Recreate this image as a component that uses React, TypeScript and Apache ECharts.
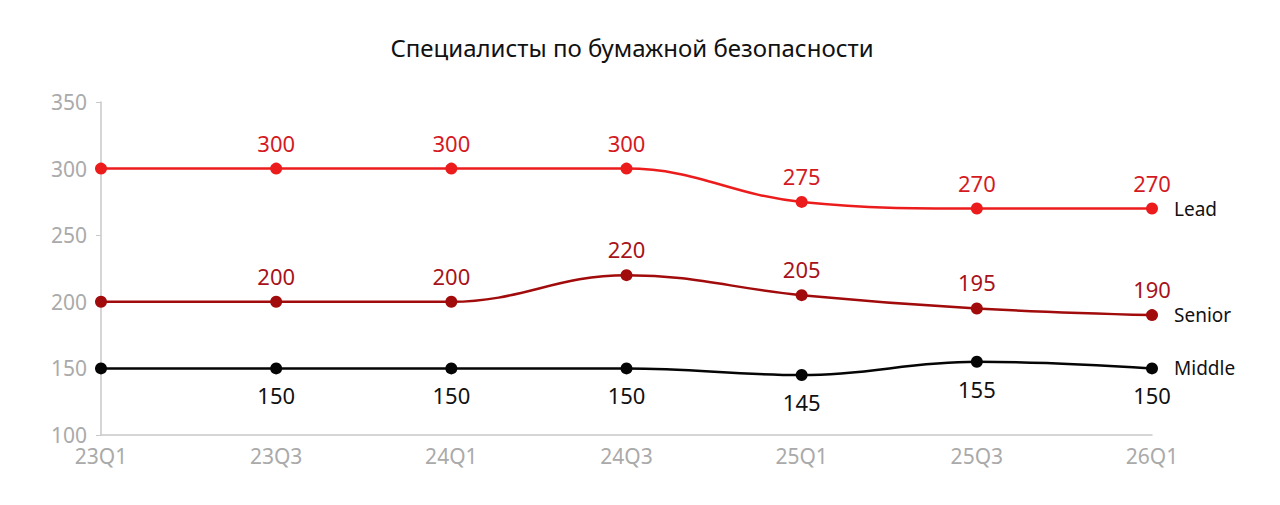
import React, { useEffect, useRef } from "react";
import * as echarts from "echarts";

const categories = ["23Q1", "23Q3", "24Q1", "24Q3", "25Q1", "25Q3", "26Q1"];
const leadValues = [300, 300, 300, 300, 275, 270, 270];
const seniorValues = [200, 200, 200, 220, 205, 195, 190];
const middleValues = [150, 150, 150, 150, 145, 155, 150];
const title = "Специалисты по бумажной безопасности";

const FONT = "'Noto Sans', 'Open Sans', sans-serif";

export default function App() {
  const ref = useRef<HTMLDivElement>(null);
  useEffect(() => {
    if (!ref.current) return;
    const chart = echarts.init(ref.current, null, { renderer: "svg" });
    const mk = (name: string, data: number[], color: string, labelColor: string, pos: string) => ({
      name,
      type: "line",
      data,
      smooth: 0.4,
      symbol: "circle",
      symbolSize: 12,
      lineStyle: { color, width: 2.5 },
      itemStyle: { color },
      label: {
        show: true,
        position: pos,
        distance: pos === "top" ? 9 : 10,
        color: labelColor,
        fontSize: 22,
        fontFamily: FONT,
        formatter: (p: any) => (p.dataIndex === 0 ? "" : String(p.value)),
      },
      endLabel: {
        show: true,
        formatter: "{a}",
        color: "#111",
        fontSize: 19,
        fontFamily: FONT,
        distance: 22,
      },
    });
    chart.setOption({
      animation: false,
      backgroundColor: "#fff",
      title: {
        text: title,
        left: 619,
        top: 22,
        textAlign: "center",
        textStyle: { fontSize: 24, fontWeight: "normal", color: "#111", fontFamily: FONT },
      },
      grid: { left: 93, right: 120, top: 94, bottom: 62 },
      xAxis: {
        type: "category",
        data: categories,
        boundaryGap: false,
        axisLine: { lineStyle: { color: "#c8c8c8", width: 1.5 } },
        axisTick: { show: false },
        axisLabel: { color: "#aaa", fontSize: 21, fontFamily: FONT, margin: 10 },
      },
      yAxis: {
        type: "value",
        min: 100,
        max: 350,
        interval: 50,
        splitLine: { show: false },
        axisLine: { show: true, lineStyle: { color: "#c8c8c8", width: 1.5 } },
        axisTick: { show: true, length: 5, lineStyle: { color: "#c8c8c8" } },
        axisLabel: { color: "#aaa", fontSize: 21, fontFamily: FONT, margin: 14 },
      },
      series: [
        mk("Lead", leadValues, "#ec1c1c", "#d41a1f", "top"),
        mk("Senior", seniorValues, "#a10b0b", "#a8121a", "top"),
        mk("Middle", middleValues, "#050505", "#111", "bottom"),
      ],
    });
    return () => chart.dispose();
  }, []);
  return <div ref={ref} style={{ width: 1264, height: 489 }} />;
}
